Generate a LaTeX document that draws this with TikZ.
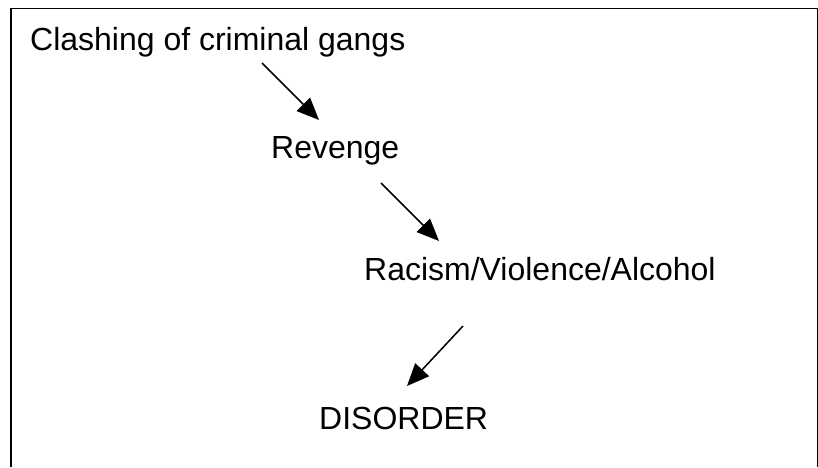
\documentclass[tikz,border=0pt]{standalone}
\usepackage{fontspec}
\setmainfont{Liberation Sans}
\usetikzlibrary{arrows.meta}
\begin{document}
\begin{tikzpicture}[x=0.03cm,y=-0.03cm,
	label/.style={anchor=base west, inner sep=0pt, font=\fontsize{27.3pt}{31pt}\selectfont},
	flow/.style={line width=1.3pt, -{Triangle[length=19pt,width=16pt]}},
	frame/.style={line width=1.4pt}
	]
	\useasboundingbox (0,0) rectangle (818,467);
	\draw[frame] (11,467) -- (11,8.5) -- (817.5,8.5) -- (817.5,467);
	\node[label] (clash) at (30,50) {Clashing of criminal gangs};
	\node[label] (revenge) at (271,158) {Revenge};
	\node[label] (racism) at (364,280) {Racism/Violence/Alcohol};
	\node[label] (disorder) at (319,429) {DISORDER};
	\coordinate (c1) at (262,63);
	\coordinate (r1) at (319,120);
	\coordinate (c2) at (381,183);
	\coordinate (r2) at (439,241);
	\coordinate (c3) at (463,326);
	\coordinate (r3) at (407,386);
	\draw[flow] (c1) -- (r1);
	\draw[flow] (c2) -- (r2);
	\draw[flow] (c3) -- (r3);
\end{tikzpicture}
\end{document}
